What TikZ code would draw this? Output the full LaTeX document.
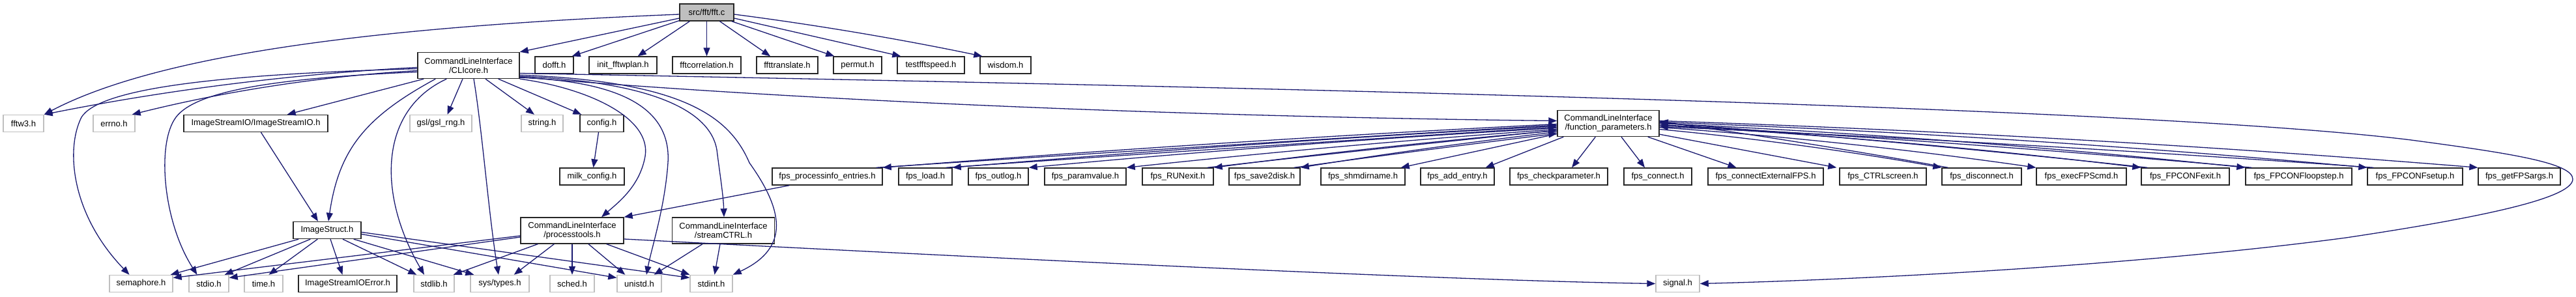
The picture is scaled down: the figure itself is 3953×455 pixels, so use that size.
\documentclass[tikz,border=0pt]{standalone}
\usepackage{fontspec}
\setmainfont{Liberation Sans}
\usetikzlibrary{arrows.meta,calc}
\definecolor{mblue}{HTML}{191970}
\definecolor{lgray}{HTML}{BFBFBF}
\newcommand\bendedge[3]{\draw[edge] (#1) .. controls ($(#1)!0.33!(#2)+(0,#3)$) and ($(#1)!0.67!(#2)+(0,#3)$) .. (#2);}
\begin{document}
\begin{tikzpicture}[x=1pt,y=-1pt,
  box/.style={draw=black!85, line width=1.4pt, fill=white, inner sep=0pt, minimum height=26pt, align=center, font=\fontsize{13}{14}\selectfont},
  sys/.style={box, draw=lgray},
  two/.style={minimum height=40pt},
  edge/.style={draw=mblue, line width=1.3pt, -{Triangle[length=13pt,width=10pt]}},
]
\useasboundingbox (0,0) rectangle (3953,455);
% ---- nodes
\node[box,fill=lgray,minimum width=83pt] (fft) at (1084.5,19) {src/fft/fft.c};
\node[box,two,minimum width=156pt] (cli) at (719,100.5) {CommandLineInterface\\/CLIcore.h};
\node[box,minimum width=59pt] (dofft) at (850.5,100) {dofft.h};
\node[box,minimum width=104pt] (init) at (956,100) {init\_fftwplan.h};
\node[box,minimum width=105pt] (fftcorr) at (1084.5,100) {fftcorrelation.h};
\node[box,minimum width=94pt] (ffttrans) at (1208,100) {ffttranslate.h};
\node[box,minimum width=74pt] (permut) at (1316,100) {permut.h};
\node[box,minimum width=103pt] (testfft) at (1428.5,100) {testfftspeed.h};
\node[box,minimum width=78pt] (wisdom) at (1543,100) {wisdom.h};
\node[box,two,minimum width=156pt] (fp) at (2468,189.5) {CommandLineInterface\\/function\_parameters.h};
\node[sys,minimum width=62pt] (fftw3) at (36,189.5) {fftw3.h};
\node[sys,minimum width=64pt] (errno) at (175,189.5) {errno.h};
\node[box,minimum width=221pt] (isio) at (392.5,189.5) {ImageStreamIO/ImageStreamIO.h};
\node[sys,minimum width=95pt] (gsl) at (676.5,189.5) {gsl/gsl\_rng.h};
\node[sys,minimum width=64pt] (string) at (832,189.5) {string.h};
\node[box,minimum width=67pt] (config) at (923.5,189.5) {config.h};
\node[box,minimum width=99pt] (milk) at (908.5,271) {milk\_config.h};
\node[box,minimum width=169pt] (pie) at (1269.5,271) {fps\_processinfo\_entries.h};
\node[box,minimum width=82pt] (load) at (1420,271) {fps\_load.h};
\node[box,minimum width=92pt] (outlog) at (1532,271) {fps\_outlog.h};
\node[box,minimum width=125pt] (paramvalue) at (1665.5,271) {fps\_paramvalue.h};
\node[box,minimum width=109pt] (runexit) at (1807.5,271) {fps\_RUNexit.h};
\node[box,minimum width=109pt] (save2disk) at (1940.5,271) {fps\_save2disk.h};
\node[box,minimum width=129pt] (shmdirname) at (2091.5,271) {fps\_shmdirname.h};
\node[box,minimum width=113pt] (addentry) at (2236.5,271) {fps\_add\_entry.h};
\node[box,minimum width=150pt] (checkparam) at (2392,271) {fps\_checkparameter.h};
\node[box,minimum width=104pt] (connect) at (2544,271) {fps\_connect.h};
\node[box,minimum width=177pt] (connectext) at (2709.5,271) {fps\_connectExternalFPS.h};
\node[box,minimum width=133pt] (ctrlscreen) at (2889.5,271) {fps\_CTRLscreen.h};
\node[box,minimum width=122pt] (disconnect) at (3041,271) {fps\_disconnect.h};
\node[box,minimum width=138pt] (execcmd) at (3194,271) {fps\_execFPScmd.h};
\node[box,minimum width=135pt] (fpconfexit) at (3353.5,271) {fps\_FPCONFexit.h};
\node[box,minimum width=163pt] (loopstep) at (3527.5,271) {fps\_FPCONFloopstep.h};
\node[box,minimum width=146pt] (setup) at (3706,271) {fps\_FPCONFsetup.h};
\node[box,minimum width=126pt] (getargs) at (3866,271) {fps\_getFPSargs.h};
\node[box,minimum width=104pt] (imgstruct) at (502,353.5) {ImageStruct.h};
\node[box,two,minimum width=158pt] (proctools) at (878,354) {CommandLineInterface\\/processtools.h};
\node[box,two,minimum width=157pt] (streamctrl) at (1110,354) {CommandLineInterface\\/streamCTRL.h};
\node[sys,minimum width=97pt] (semaphore) at (216.5,435.5) {semaphore.h};
\node[sys,minimum width=61pt] (stdio) at (320.5,435.5) {stdio.h};
\node[sys,minimum width=59pt] (time) at (404.5,435.5) {time.h};
\node[box,minimum width=151pt] (isioerr) at (533.5,435.5) {ImageStreamIOError.h};
\node[sys,minimum width=62pt] (stdlib) at (666,435.5) {stdlib.h};
\node[sys,minimum width=90pt] (systypes) at (767,435.5) {sys/types.h};
\node[sys,minimum width=68pt] (sched) at (878,435.5) {sched.h};
\node[sys,minimum width=68pt] (unistd) at (981,435.5) {unistd.h};
\node[sys,minimum width=65pt] (stdint) at (1091.5,435.5) {stdint.h};
\node[sys,minimum width=67pt] (signal) at (2574.5,435.5) {signal.h};
% ---- attachment points
\coordinate (fftE3) at ($(fft.east)+(0,3)$);
\coordinate (wisT) at ($(wisdom.north west)+(4,0)$);
\coordinate (cliW3) at ($(cli.west)+(0,3)$);
\coordinate (cliW8) at ($(cli.west)+(0,8)$);
\coordinate (errT) at ($(errno.north east)+(-5,0)$);
\foreach \k in {1,4,7,9,11,13} {\coordinate (fpL\k) at ($(fp.west)+(0,\k)$);}
\foreach \k/\n in {2.5/a,5.5/b,10.5/c,15.5/d} {\coordinate (fpLr\n) at ($(fp.west)+(0,\k)$);}
\foreach \k/\n in {-4/a,-2/b,0/c,3/d,6/e,9/f,5/g,2/h,-1/i,-3/j} {\coordinate (fpR\n) at ($(fp.east)+(0,\k)$);}
\foreach \n in {pie,load,runexit,save2disk} {\coordinate (\n R) at ($(\n.north east)+(-10,0)$);}
\foreach \n in {setup,loopstep,fpconfexit,disconnect} {\coordinate (\n R) at ($(\n.north west)+(10,0)$);}
% ---- fft.c
\draw[edge] ($(fft.west)+(0,3)$) .. controls (600,40) and (250,80) .. (fftw3.north east);
\draw[edge] ($(fft.west)+(0,9)$) -- (cli.north east);
\draw[edge] ($(fft.south west)+(0,-1)$) -- ($(dofft.north east)+(-3,0)$);
\draw[edge] ($(fft.south west)+(16,0)$) -- ($(init.north east)+(-30,0)$);
\draw[edge] (fft.south) -- (fftcorr.north);
\draw[edge] ($(fft.south)+(20,0)$) -- ($(ffttrans.north)+(-26,0)$);
\draw[edge] ($(fft.south east)+(-4,0)$) -- ($(permut.north west)+(2,0)$);
\draw[edge] ($(fft.east)+(0,9)$) -- ($(testfft.north west)+(6,0)$);
\bendedge{fftE3}{wisT}{-5}
% ---- CLIcore.h
\bendedge{cliW3}{fftw3.north east}{-14}
\bendedge{cliW8}{errT}{-14}
\draw[edge] ($(cli.west)+(0,5)$) .. controls (300,115) and (150,140) .. (125,180) .. controls (100,230) and (110,330) .. ($(semaphore.north)+(-18,0)$);
\draw[edge] ($(cli.west)+(0,10)$) .. controls (420,120) and (300,140) .. (270,180) .. controls (240,220) and (250,340) .. ($(stdio.north)+(-18,0)$);
\draw[edge] ($(cli.south west)+(10,0)$) -- ($(isio.north east)+(-63,0)$);
\draw[edge] ($(cli.south west)+(28,0)$) .. controls (560,180) and (520,230) .. ($(imgstruct.north)+(2,0)$);
\draw[edge] ($(isio.south)+(8,0)$) -- ($(imgstruct.north)+(-14,0)$);
\draw[edge] ($(cli.south west)+(45,0)$) .. controls (580,170) and (580,300) .. ($(stdlib.north)+(-15,0)$);
\draw[edge] ($(cli.south)+(-9,0)$) -- ($(gsl.north)+(10,0)$);
\draw[edge] ($(cli.south)+(8,0)$) .. controls (740,200) and (750,330) .. ($(systypes.north)+(-2,0)$);
\draw[edge] ($(cli.south)+(26,0)$) -- ($(string.north)+(-12,0)$);
\draw[edge] ($(cli.south east)+(-33,0)$) -- ($(config.north west)+(3,0)$);
\draw[edge] ($(config.south)+(-5,0)$) -- ($(milk.north)+(2,0)$);
\draw[edge] (cli.south east) .. controls (900,135) and (1000,180) .. (990,240) .. controls (982,285) and (950,310) .. ($(proctools.north)+(45,0)$);
\draw[edge] ($(cli.south east)+(0,-2)$) .. controls (960,125) and (1030,170) .. (1025,250) .. controls (1020,320) and (1000,380) .. ($(unistd.north)+(11,0)$);
\draw[edge] ($(cli.south east)+(0,-4)$) .. controls (1000,125) and (1090,170) .. (1100,230) .. controls (1105,270) and (1110,300) .. ($(streamctrl.north)+(1,0)$);
\draw[edge] ($(cli.south east)+(0,-6)$) .. controls (1050,125) and (1120,180) .. (1150,250) .. controls (1200,320) and (1215,380) .. (stdint.north east);
\draw[edge] ($(cli.south east)+(0,-3)$) .. controls (1300,160) and (1900,180) .. ($(fp.west)+(0,-4)$);
\draw[edge] ($(cli.east)+(0,12)$) .. controls (2000,135) and (3300,165) .. (3700,215) .. controls (3850,235) and (3948,250) .. (3948,275) .. controls (3948,305) and (3800,335) .. (3600,365) .. controls (3300,405) and (2900,428) .. (signal.east);
% ---- processtools.h
\draw[edge] ($(proctools.west)+(0,8)$) -- ($(semaphore.east)+(0,-9)$);
\draw[edge] ($(proctools.west)+(0,10)$) -- ($(stdio.east)+(0,-9)$);
\draw[edge] ($(proctools.south west)+(27,0)$) -- ($(stdlib.north east)+(-2,0)$);
\draw[edge] ($(proctools.south west)+(52,0)$) -- ($(systypes.north east)+(-24,0)$);
\draw[edge] (proctools.south) -- (sched.north);
\draw[edge] ($(proctools.south)+(25,0)$) -- ($(unistd.north west)+(13,0)$);
\draw[edge] ($(proctools.south east)+(-27,0)$) -- (stdint.north west);
\draw[edge] ($(proctools.east)+(0,13)$) .. controls (1500,395) and (2200,430) .. (signal.west);
% ---- ImageStruct.h
\draw[edge] ($(imgstruct.south west)+(9,0)$) -- ($(semaphore.north east)+(-4,0)$);
\draw[edge] ($(imgstruct.south west)+(27,0)$) -- ($(stdio.north east)+(-7,0)$);
\draw[edge] ($(imgstruct.south west)+(38,0)$) -- ($(time.north)+(8,0)$);
\draw[edge] ($(imgstruct.south)+(5,0)$) -- ($(isioerr.north)+(-8,0)$);
\draw[edge] ($(imgstruct.south)+(24,0)$) -- ($(stdlib.north west)+(5,0)$);
\draw[edge] ($(imgstruct.south east)+(-12,0)$) -- ($(systypes.north west)+(6,0)$);
\draw[edge] ($(imgstruct.east)+(0,6)$) -- ($(unistd.west)+(0,-9)$);
\draw[edge] ($(imgstruct.east)+(0,3)$) -- ($(stdint.west)+(0,-9)$);
% ---- streamCTRL.h
\draw[edge] ($(streamctrl.south)+(-32,0)$) -- ($(unistd.north east)+(-12,0)$);
\draw[edge] ($(streamctrl.south)+(-5,0)$) -- ($(stdint.north)+(5,0)$);
% ---- fps_processinfo_entries.h
\draw[edge] ($(pie.south west)+(27,0)$) -- (proctools.north east);
% ---- function_parameters.h, left fan
\bendedge{fpL1}{pie.north east}{-5}
\bendedge{fpL4}{load.north east}{-5}
\bendedge{fpL7}{outlog.north east}{-5}
\bendedge{fpL9}{paramvalue.north east}{-4}
\bendedge{fpL11}{runexit.north east}{-4}
\bendedge{fpL13}{save2disk.north east}{-3}
\draw[edge] ($(fp.west)+(0,16)$) -- ($(shmdirname.north east)+(-7,0)$);
\draw[edge] ($(fp.south west)+(10,0)$) -- ($(addentry.north east)+(-14,0)$);
\bendedge{pieR}{fpLra}{-1}
\bendedge{loadR}{fpLrb}{-1}
\bendedge{runexitR}{fpLrc}{-1}
\bendedge{save2diskR}{fpLrd}{-1}
% ---- bottom
\draw[edge] ($(fp.south west)+(59,0)$) -- ($(checkparam.north)+(20,0)$);
\draw[edge] ($(fp.south)+(20,0)$) -- ($(connect.north)+(-20,0)$);
\draw[edge] ($(fp.south east)+(-18,0)$) -- ($(connectext.north)+(-45,0)$);
\draw[edge] ($(fp.south east)+(0,-4)$) -- ($(ctrlscreen.north west)+(-4,0)$);
% ---- right fan
\bendedge{fpRa}{getargs.north west}{-10}
\bendedge{fpRb}{setup.north west}{-10}
\bendedge{fpRc}{loopstep.north west}{-9}
\bendedge{fpRd}{fpconfexit.north west}{-8}
\bendedge{fpRe}{execcmd.north west}{-7}
\bendedge{fpRf}{disconnect.north west}{-6}
\bendedge{setupR}{fpRg}{-5}
\bendedge{loopstepR}{fpRh}{-5}
\bendedge{fpconfexitR}{fpRi}{-4}
\bendedge{disconnectR}{fpRj}{-3}
\end{tikzpicture}
\end{document}
